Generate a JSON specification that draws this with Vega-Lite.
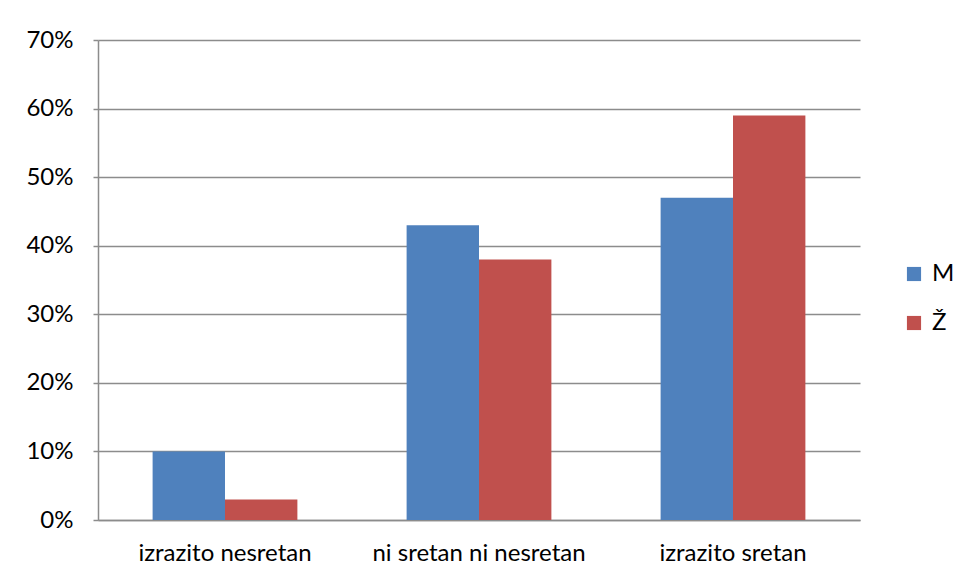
{
  "$schema": "https://vega.github.io/schema/vega-lite/v6.json",
  "width": 762,
  "height": 480,
  "autosize": "none",
  "padding": {"left": 98, "top": 40, "right": 100, "bottom": 65},
  "background": "white",
  "config": {
    "font": "Lato",
    "view": {"stroke": null},
    "axis": {"labelFont": "Lato", "labelFontSize": 24, "labelColor": "#000000"}
  },
  "data": {
    "values": [
      {"kategorija": "izrazito nesretan", "spol": "M", "udio": 0.10},
      {"kategorija": "izrazito nesretan", "spol": "Ž", "udio": 0.03},
      {"kategorija": "ni sretan ni nesretan", "spol": "M", "udio": 0.43},
      {"kategorija": "ni sretan ni nesretan", "spol": "Ž", "udio": 0.38},
      {"kategorija": "izrazito sretan", "spol": "M", "udio": 0.47},
      {"kategorija": "izrazito sretan", "spol": "Ž", "udio": 0.59}
    ]
  },
  "mark": {"type": "bar"},
  "encoding": {
    "x": {
      "field": "kategorija",
      "type": "nominal",
      "sort": ["izrazito nesretan", "ni sretan ni nesretan", "izrazito sretan"],
      "scale": {"paddingInner": 0.43, "paddingOuter": 0.215},
      "axis": {
        "title": null,
        "labelAngle": 0,
        "labelLimit": 400,
        "ticks": false,
        "labelPadding": 21,
        "domainColor": "#8c8c8c",
        "domainWidth": 1.5
      }
    },
    "xOffset": {"field": "spol", "type": "nominal", "sort": ["M", "Ž"], "scale": {"paddingInner": 0, "paddingOuter": 0}},
    "y": {
      "field": "udio",
      "type": "quantitative",
      "scale": {"domain": [0, 0.7], "nice": false},
      "axis": {
        "title": null,
        "format": ".0%",
        "values": [0, 0.1, 0.2, 0.3, 0.4, 0.5, 0.6, 0.7],
        "tickSize": 5,
        "tickColor": "#8c8c8c",
        "tickWidth": 1.5,
        "labelPadding": 20,
        "domainColor": "#8c8c8c",
        "domainWidth": 1.5,
        "grid": true,
        "gridColor": "#8c8c8c",
        "gridWidth": 1.5
      }
    },
    "color": {
      "field": "spol",
      "type": "nominal",
      "sort": ["M", "Ž"],
      "scale": {"domain": ["M", "Ž"], "range": ["#4F81BD", "#C0504D"]},
      "legend": {
        "title": null,
        "orient": "none",
        "legendX": 804,
        "legendY": 222,
        "symbolType": "square",
        "symbolSize": 200,
        "symbolStrokeWidth": 0,
        "labelFontSize": 24,
        "labelFont": "Lato",
        "labelColor": "#000000",
        "rowPadding": 25,
        "labelOffset": 6
      }
    }
  }
}
